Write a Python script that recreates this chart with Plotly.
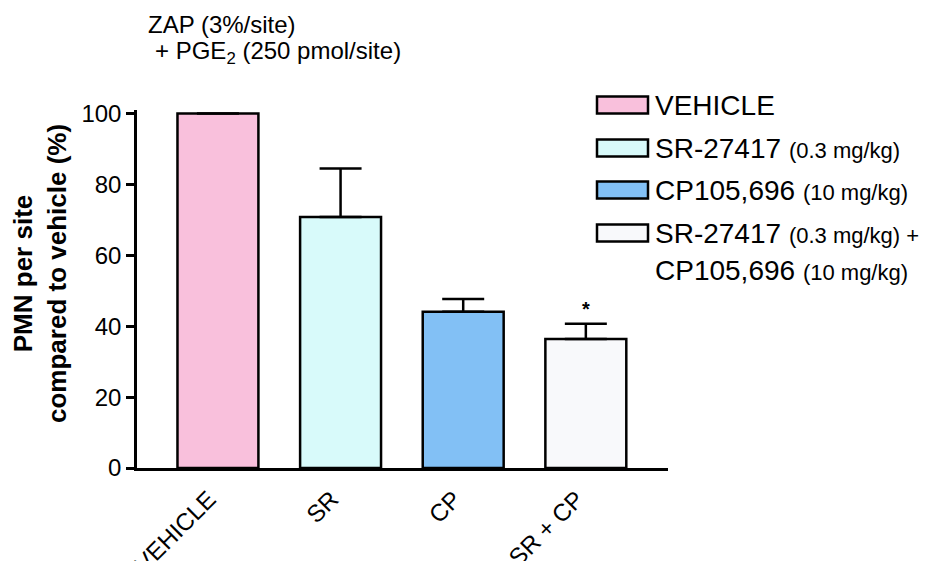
import plotly.graph_objects as go

categories = ["VEHICLE", "SR", "CP", "SR + CP"]
values = [100, 70.8, 44.1, 36.4]
errors = [0, 13.7, 3.6, 4.3]
colors = ["#F9C0DC", "#D8FAFA", "#82C0F5", "#F8F9FB"]
legend_main = ["VEHICLE", "SR-27417", "CP105,696", "SR-27417"]
legend_dose = ["", "(0.3 mg/kg)", "(10 mg/kg)", "(0.3 mg/kg) +"]
legend_extra_main = "CP105,696"
legend_extra_dose = "(10 mg/kg)"
y_ticks = [0, 20, 40, 60, 80, 100]
star_value = 45
y_title = "<b>PMN per site<br>compared to vehicle (%)</b>"

W, H = 946, 561
L, R, T, B = 137, 278, 110, 93
pw, ph = W - L - R, H - T - B

def px(x):
    return (x - L) / pw

def py(y):
    return (H - B - y) / ph

font = "Liberation Sans, Arial, sans-serif"
span = "<span style='font-size:22px;font-family:Liberation Sans, Arial, sans-serif'>"

fig = go.Figure()
fig.add_trace(go.Bar(
    x=list(range(len(categories))), y=values,
    width=0.66,
    marker=dict(color=colors, line=dict(color="black", width=2.5)),
    error_y=dict(type="data", symmetric=False, array=errors,
                 arrayminus=[0] * len(errors),
                 color="black", thickness=2.5, width=21),
    showlegend=False,
))

fig.update_layout(
    width=W, height=H,
    margin=dict(l=L, r=R, t=T, b=B),
    paper_bgcolor="white", plot_bgcolor="white",
    font=dict(family=font, color="black"),
    xaxis=dict(range=[-0.66, 3.67], tickmode="array",
               tickvals=list(range(len(categories))), ticktext=categories,
               tickangle=-45, showline=True, linecolor="black", linewidth=2.5,
               ticks="", showgrid=False, zeroline=False, automargin=False,
               ticklabelstandoff=5, ticklabelshift=-9,
               tickfont=dict(size=24, family=font)),
    yaxis=dict(range=[0, 101], tickvals=y_ticks, showline=True,
               linecolor="black", linewidth=2.5, ticks="outside", ticklen=8,
               tickwidth=2.5, tickcolor="black", showgrid=False,
               zeroline=False, automargin=False,
               tickfont=dict(size=24, family=font)),
)

anns = []
anns.append(dict(x=px(40), y=py(274), xref="paper", yref="paper",
                 text=y_title, textangle=-90, showarrow=False,
                 xanchor="center", yanchor="middle",
                 font=dict(size=26, family=font)))
anns.append(dict(x=3, y=star_value, xref="x", yref="y", text="<b>*</b>",
                 showarrow=False, font=dict(size=20, family=font)))
anns.append(dict(x=px(146), y=py(24), xref="paper", yref="paper",
                 text="ZAP (3%/site)", xanchor="left", yanchor="middle",
                 showarrow=False, font=dict(size=24, family=font)))
anns.append(dict(x=px(153), y=py(53), xref="paper", yref="paper",
                 text="+ PGE<sub>2</sub> (250 pmol/site)", xanchor="left",
                 yanchor="middle", showarrow=False,
                 font=dict(size=24, family=font)))

shapes = []
rows = [105, 148, 190, 233]
for i, yc in enumerate(rows):
    shapes.append(dict(type="rect", xref="paper", yref="paper",
                       x0=px(597), x1=px(648), y0=py(yc + 8.5), y1=py(yc - 8.5),
                       fillcolor=colors[i], line=dict(color="black", width=2.5)))
    txt = legend_main[i]
    if legend_dose[i]:
        txt += " " + span + legend_dose[i] + "</span>"
    anns.append(dict(x=px(653), y=py(yc), xref="paper", yref="paper",
                     text=txt, xanchor="left", yanchor="middle",
                     showarrow=False, font=dict(size=28, family=font)))
anns.append(dict(x=px(653), y=py(270), xref="paper", yref="paper",
                 text=legend_extra_main + " " + span + legend_extra_dose + "</span>",
                 xanchor="left", yanchor="middle", showarrow=False,
                 font=dict(size=28, family=font)))

fig.update_layout(annotations=anns, shapes=shapes)
fig.write_html("out.html", config={"displayModeBar": False},
               post_script="document.body.style.margin='0';document.body.style.overflow='hidden';")
